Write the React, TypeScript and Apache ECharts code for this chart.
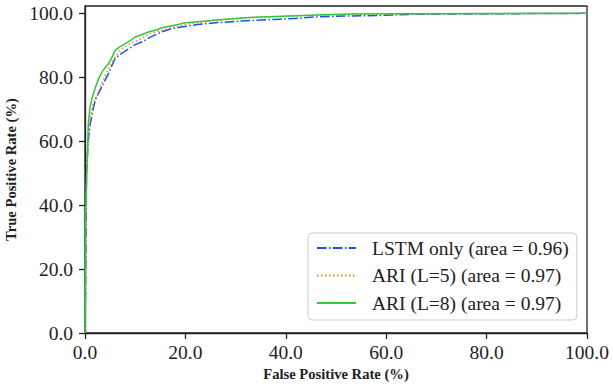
import React, { useEffect, useRef } from "react";
import * as echarts from "echarts";

const lstmFpr = [0, 0.1, 0.2, 0.3, 0.66, 1.0, 1.7, 2.2, 3.0, 3.8, 4.7, 5.3, 6.0, 7.0, 8.7, 10.0, 11.4, 12.9, 15.3, 16.9, 19.5, 22.9, 26.5, 30.9, 35, 39.5, 46.2, 52.8, 58, 65, 75, 85, 100];
const lstmTpr = [0, 10, 30, 50, 60.3, 65, 70.7, 73.5, 76, 78.5, 81.2, 83.5, 85.8, 87.2, 88.9, 90.2, 91.1, 92.5, 94.2, 95.0, 95.8, 96.6, 97.1, 97.6, 97.9, 98.2, 98.9, 99.2, 99.3, 99.7, 99.8, 99.9, 100];

const ari5Fpr = [0, 0.1, 0.2, 0.4, 0.7, 1.0, 1.6, 2.4, 3.2, 4.2, 5.4, 6.4, 7.4, 9.0, 10.7, 12.9, 15.3, 17.5, 20, 25, 31, 38, 45, 55, 65, 80, 100];
const ari5Tpr = [0, 20, 40, 55, 62, 67, 71.5, 74.4, 77.5, 81.2, 84.8, 87.2, 89, 90.6, 91.6, 93.7, 94.7, 95.6, 96.5, 97.6, 98.6, 99.0, 99.4, 99.7, 99.8, 99.9, 100];

const ari8Fpr = [0, 0.05, 0.1, 0.2, 0.4, 0.66, 1.0, 1.5, 2.0, 2.7, 3.4, 4.0, 4.7, 5.3, 6.0, 7.0, 8.0, 9.0, 10.0, 11.4, 12.9, 14.3, 15.3, 18.3, 19.6, 23.5, 26.2, 32.9, 39.5, 46.2, 52.8, 65, 80, 100];
const ari8Tpr = [0, 10, 38, 42, 52, 65.5, 70.7, 74, 76.5, 79.5, 81.7, 83, 84.3, 86, 88.4, 89.6, 90.5, 91.5, 92.6, 93.4, 94.3, 94.9, 95.5, 96.4, 97.0, 97.5, 97.9, 98.7, 99.1, 99.5, 99.8, 99.9, 99.95, 100];

const seriesNames = ["LSTM only (area = 0.96)", "ARI (L=5) (area = 0.97)", "ARI (L=8) (area = 0.97)"];
const yTicks = [0, 20, 40, 60, 80, 100];

const zip = (xs: number[], ys: number[]) => xs.map((x, i) => [x, ys[i]]);

export default function App() {
  const ref = useRef<HTMLDivElement>(null);
  useEffect(() => {
    if (!ref.current) return;
    const chart = echarts.init(ref.current, null, { renderer: "svg" });
    const font = "Liberation Serif";
    const axisColor = "#222";
    chart.setOption({
      animation: false,
      backgroundColor: "#fff",
      textStyle: { fontFamily: font },
      grid: { left: 85, right: 26, top: 6, bottom: 54, containLabel: false, outerBoundsMode: "none", show: true, borderColor: axisColor, borderWidth: 1.3, backgroundColor: "transparent" },
      xAxis: {
        type: "value",
        min: 0,
        max: 100,
        interval: 20,
        splitLine: { show: false },
        axisLine: { show: true, lineStyle: { color: axisColor, width: 1.3 } },
        axisTick: { show: true, length: 6, lineStyle: { color: axisColor, width: 1.3 } },
        axisLabel: { margin: 9, fontFamily: font, fontSize: 19.5, color: "#222", formatter: (v: number) => v.toFixed(1) },
        name: "False Positive Rate (%)",
        nameLocation: "middle",
        nameGap: 33,
        nameTextStyle: { fontFamily: font, fontWeight: "bold", fontSize: 14.6, color: "#222" },
      },
      yAxis: {
        type: "value",
        min: 0,
        max: 102.3,
        interval: 20,
        splitLine: { show: false },
        axisLine: { show: true, lineStyle: { color: axisColor, width: 1.3 } },
        axisTick: { show: true, length: 6, lineStyle: { color: axisColor, width: 1.3 }, customValues: yTicks },
        axisLabel: { margin: 12, fontFamily: font, fontSize: 19.5, color: "#222", formatter: (v: number) => v.toFixed(1), customValues: yTicks },
        name: "True Positive Rate (%)",
        nameLocation: "middle",
        nameGap: 60,
        nameTextStyle: { fontFamily: font, fontWeight: "bold", fontSize: 14.6, color: "#222" },
      },
      legend: {
        orient: "vertical",
        left: 308,
        top: 233,
        padding: [4, 8, 6, 8],
        itemWidth: 39,
        itemHeight: 14,
        itemGap: 5.5,
        backgroundColor: "rgba(255,255,255,0.85)",
        borderColor: "#cccccc",
        borderWidth: 1,
        borderRadius: 4,
        itemStyle: { opacity: 0 },
        textStyle: { fontFamily: font, fontSize: 19.5, color: "#222", lineHeight: 22, padding: [0, 0, 0, 11] },
        data: seriesNames,
      },
      series: [
        {
          name: seriesNames[0],
          type: "line",
          data: zip(lstmFpr, lstmTpr),
          showSymbol: false,
          symbol: "none",
          lineStyle: { color: "#1f4ff0", width: 1.5, type: [9.6, 2.4, 1.5, 2.4] },
          itemStyle: { color: "#1f4ff0" },
          z: 2,
        },
        {
          name: seriesNames[1],
          type: "line",
          data: zip(ari5Fpr, ari5Tpr),
          showSymbol: false,
          symbol: "none",
          lineStyle: { color: "#ff7f0e", width: 1.5, type: [1.5, 2.5] },
          itemStyle: { color: "#ff7f0e" },
          z: 3,
        },
        {
          name: seriesNames[2],
          type: "line",
          data: zip(ari8Fpr, ari8Tpr),
          showSymbol: false,
          symbol: "none",
          lineStyle: { color: "#2fc83f", width: 1.5 },
          itemStyle: { color: "#2fc83f" },
          z: 4,
        },
      ],
    });
    return () => chart.dispose();
  }, []);
  return <div ref={ref} style={{ width: 613, height: 387, position: "absolute", left: 0, top: 0 }} />;
}
